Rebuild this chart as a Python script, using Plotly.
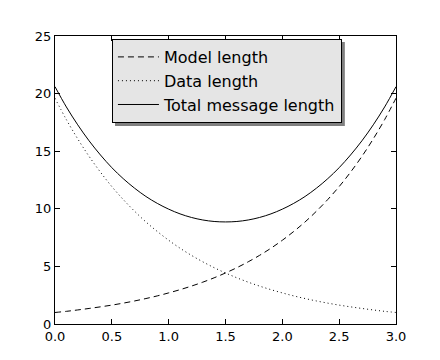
import plotly.graph_objects as go

x_vals = [0.0, 0.1, 0.2, 0.3, 0.4, 0.5, 0.6, 0.7, 0.8, 0.9, 1.0,
          1.1, 1.2, 1.3, 1.4, 1.5, 1.6, 1.7, 1.8, 1.9, 2.0,
          2.1, 2.2, 2.3, 2.4, 2.5, 2.6, 2.7, 2.8, 2.9, 3.0]
model_length = [1.00, 1.10, 1.22, 1.35, 1.49, 1.64, 1.81, 2.00, 2.21, 2.44, 2.70,
                2.98, 3.29, 3.63, 4.01, 4.43, 4.89, 5.40, 5.96, 6.58, 7.27,
                8.03, 8.86, 9.79, 10.81, 11.93, 13.18, 14.55, 16.07, 17.74, 19.60]
data_length = [19.60, 17.74, 16.07, 14.55, 13.18, 11.93, 10.81, 9.79, 8.86, 8.03, 7.27,
               6.58, 5.96, 5.40, 4.89, 4.43, 4.01, 3.63, 3.29, 2.98, 2.70,
               2.44, 2.21, 2.00, 1.81, 1.64, 1.49, 1.35, 1.22, 1.10, 1.00]
total_length = [20.60, 18.84, 17.29, 15.90, 14.67, 13.57, 12.62, 11.79, 11.07, 10.47, 9.97,
                9.56, 9.25, 9.03, 8.90, 8.86, 8.90, 9.03, 9.25, 9.56, 9.97,
                10.47, 11.07, 11.79, 12.62, 13.57, 14.67, 15.90, 17.29, 18.84, 20.60]
x_ticks = [0.0, 0.5, 1.0, 1.5, 2.0, 2.5, 3.0]
y_ticks = [0, 5, 10, 15, 20, 25]

FONT = "DejaVu Sans"

fig = go.Figure()
fig.add_trace(go.Scatter(x=x_vals, y=model_length, mode="lines", name="Model length",
                         line=dict(color="black", width=1, dash="6px,4px", shape="spline")))
fig.add_trace(go.Scatter(x=x_vals, y=data_length, mode="lines", name="Data length",
                         line=dict(color="black", width=1, dash="1px,3px", shape="spline")))
fig.add_trace(go.Scatter(x=x_vals, y=total_length, mode="lines", name="Total message length",
                         line=dict(color="black", width=1, shape="spline")))

axis_common = dict(showgrid=False, zeroline=False, showline=True, linecolor="black",
                   linewidth=1, mirror="ticks", ticks="inside", ticklen=5,
                   tickcolor="black", tickfont=dict(family=FONT, size=13, color="black"))

fig.update_xaxes(range=[0, 3], tickvals=x_ticks, tickformat=".1f", **axis_common)
fig.update_yaxes(range=[0, 25], tickvals=y_ticks, **axis_common)

# legend shadow
fig.add_shape(type="rect", xref="paper", yref="paper",
              x0=0.176, x1=0.850, y0=0.6875, y1=0.979,
              fillcolor="#808080", line=dict(width=0), layer="above")

fig.update_layout(
    width=440, height=360,
    margin=dict(l=47, r=52, t=28, b=44),
    paper_bgcolor="white", plot_bgcolor="white",
    font=dict(family=FONT, color="black"),
    legend=dict(x=0.167, y=0.9896, xanchor="left", yanchor="top",
                bgcolor="#e5e5e5", bordercolor="black", borderwidth=1,
                font=dict(family=FONT, size=16, color="black"),
                tracegroupgap=0, itemwidth=41),
    showlegend=True,
)

fig.write_html("out.html")
